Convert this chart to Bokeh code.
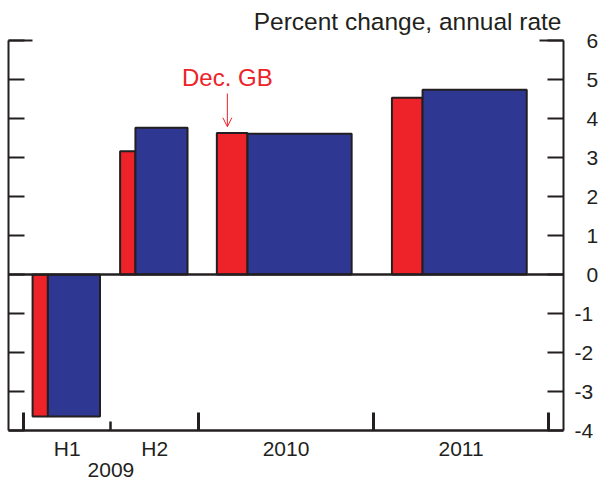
from bokeh.plotting import figure
from bokeh.models import (LinearAxis, FixedTicker, Range1d, Span, Label,
                          Arrow, OpenHead, ColumnDataSource)
from bokeh.embed import file_html
from bokeh.resources import INLINE
import numpy as np

# ---------------- data ----------------
period_labels = ["H1", "H2", "2010", "2011"]
period_halfyears = [1, 1, 2, 2]          # length of each period in half-years
year_label_2009 = "2009"
dec_gb = [-3.64, 3.16, 3.63, 4.53]       # December Greenbook (red)
current = [-3.64, 3.76, 3.61, 4.74]      # current projection (blue)
y_ticks = [-4, -3, -2, -1, 0, 1, 2, 3, 4, 5, 6]
y_tick_labels = ["-4", "-3", "-2", "-1", "0", "1", "2", "3", "4", "5", "6"]
units_title = "Percent change, annual rate"
note_text = "Dec. GB"
note_period = 2                          # index of the period the note points to

# ---------------- styles ----------------
RED = "#EE2229"
BLUE = "#2E3791"
INK = "#231F20"
FONT = "Liberation Sans"

lengths = np.array(period_halfyears, dtype=float)
starts = np.concatenate([[0.0], np.cumsum(lengths)[:-1]])
ends = starts + lengths
centers = [float(c) for c in starts + lengths / 2]

red_left = starts + 0.105 * lengths
split = starts + 0.28 * lengths
blue_right = starts + 0.875 * lengths

PAD = 0.17
x0, x1 = float(starts[0] - PAD), float(ends[-1] + PAD)
y0, y1 = y_ticks[0], y_ticks[-1]

p = figure(width=601, height=485, x_range=Range1d(x0, x1), y_range=Range1d(y0, y1),
           output_backend="svg", toolbar_location=None, y_axis_location="right",
           min_border_left=8, min_border_right=34, min_border_top=40, min_border_bottom=55)
p.grid.visible = False
p.outline_line_color = None
p.background_fill_color = "white"
p.border_fill_color = "white"

# units title, right-aligned above the frame
p.title.text = units_title
p.title.align = "right"
p.title.offset = 2
p.title.standoff = 11
p.title.text_font = FONT
p.title.text_font_size = "24.5px"
p.title.text_font_style = "normal"
p.title.text_color = INK

red_src = ColumnDataSource(dict(left=red_left, right=split, top=dec_gb, bottom=[0] * 4))
blue_src = ColumnDataSource(dict(left=split, right=blue_right, top=current, bottom=[0] * 4))
p.quad(left="left", right="right", top="top", bottom="bottom", source=red_src,
       fill_color=RED, line_color=INK, line_width=2)
p.quad(left="left", right="right", top="top", bottom="bottom", source=blue_src,
       fill_color=BLUE, line_color=INK, line_width=2)

p.add_layout(Span(location=0, dimension="width", line_color=INK, line_width=2.5))


def hide_labels(ax, ticks):
    ax.major_label_text_font_size = "0px"
    ax.major_label_standoff = 0
    ax.major_label_overrides = {t: "" for t in ticks}


def text_style(ax):
    ax.major_label_text_font = FONT
    ax.major_label_text_font_size = "21px"
    ax.major_label_text_color = INK


def no_lines(ax):
    ax.axis_line_color = None
    ax.major_tick_line_color = None
    ax.minor_tick_line_color = None
    ax.major_tick_in = 0
    ax.major_tick_out = 0
    ax.minor_tick_in = 0
    ax.minor_tick_out = 0


# x axis: ticks at period boundaries (long for years, short for half-year)
bounds = np.concatenate([[0.0], ends])
year_bounds = [float(b) for b in bounds if b % 2 == 0]
half_bounds = [float(b) for b in bounds if b % 2 == 1]
xa = p.xaxis[0]
xa.ticker = FixedTicker(ticks=year_bounds, minor_ticks=half_bounds)
xa.axis_line_width = 2.5
xa.axis_line_color = INK
xa.major_tick_in = 18
xa.major_tick_out = 0
xa.major_tick_line_width = 3
xa.major_tick_line_color = INK
xa.minor_tick_in = 9
xa.minor_tick_out = 0
xa.minor_tick_line_width = 2.5
xa.minor_tick_line_color = INK
hide_labels(xa, year_bounds)

# period labels
xb = LinearAxis(ticker=FixedTicker(ticks=centers, minor_ticks=[]))
no_lines(xb)
text_style(xb)
xb.major_label_standoff = 6
xb.major_label_overrides = {c: lab for c, lab in zip(centers, period_labels)}
p.add_layout(xb, "below")

# year label under the two halves of 2009
c2009 = float((starts[0] + ends[1]) / 2)
xc = LinearAxis(ticker=FixedTicker(ticks=[c2009], minor_ticks=[]))
no_lines(xc)
text_style(xc)
xc.major_label_standoff = 0
xc.major_label_overrides = {c2009: year_label_2009}
p.add_layout(xc, "below")


def style_y(ax):
    ax.ticker = FixedTicker(ticks=y_ticks, minor_ticks=[y_ticks[-1]])
    ax.axis_line_width = 2
    ax.axis_line_color = INK
    ax.major_tick_in = 16
    ax.major_tick_out = 0
    ax.major_tick_line_width = 2
    ax.major_tick_line_color = INK
    ax.minor_tick_in = 24
    ax.minor_tick_out = 0
    ax.minor_tick_line_width = 2
    ax.minor_tick_line_color = INK


# right axis: ticks + labels of the two-character (negative) values
ra = p.yaxis[0]
style_y(ra)
text_style(ra)
ra.major_label_standoff = 11
ra.major_label_overrides = {t: (lab if len(lab) > 1 else "")
                            for t, lab in zip(y_ticks, y_tick_labels)}

# second right axis: single-digit labels, right-aligned with the others
rb = LinearAxis(ticker=FixedTicker(ticks=y_ticks, minor_ticks=[]))
no_lines(rb)
text_style(rb)
rb.major_label_standoff = -10
rb.major_label_overrides = {t: (lab if len(lab) == 1 else "")
                            for t, lab in zip(y_ticks, y_tick_labels)}
p.add_layout(rb, "right")

left_axis = LinearAxis()
style_y(left_axis)
hide_labels(left_axis, y_ticks)
p.add_layout(left_axis, "left")

# Dec. GB note with arrow
note_x = float(red_left[note_period] + 0.12)
arrow_end = dec_gb[note_period] + 0.16
arrow_start = arrow_end + 0.85
p.add_layout(Label(x=note_x, y=arrow_start + 0.40, text=note_text, text_align="center",
                   text_baseline="alphabetic", text_font=FONT, text_font_size="24px",
                   text_color=RED))
p.add_layout(Arrow(x_start=note_x, y_start=arrow_start, x_end=note_x, y_end=arrow_end,
                   line_color=RED, line_width=1,
                   end=OpenHead(size=9, line_color=RED, line_width=1)))

open("out.html", "w").write(file_html(p, INLINE))
